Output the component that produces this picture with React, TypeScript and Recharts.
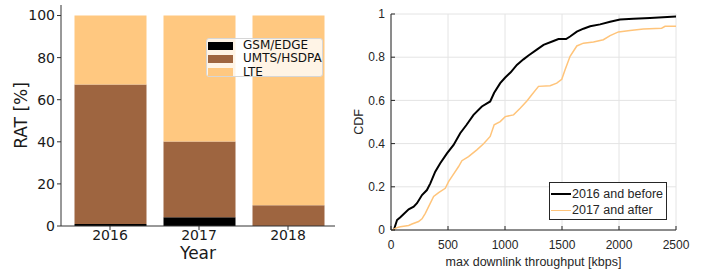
import { Bar, BarChart, CartesianGrid, Label, Legend, Line, LineChart, XAxis, YAxis } from "recharts";

const years = ["2016", "2017", "2018"];
const gsmEdge = [1.0, 4.1, 0.0];
const umtsHsdpa = [66.2, 36.0, 9.8];
const lte = [32.8, 59.9, 90.2];
const ratTicks = [0, 20, 40, 60, 80, 100];

const before2016Kbps = [
  25, 53, 82, 155, 199, 228, 272, 315, 345, 388, 432, 491, 549, 607, 660, 724, 797, 870, 905, 958,
  1000, 1050, 1104, 1162, 1206, 1279, 1338, 1425, 1469, 1536, 1571, 1630, 1688, 1747, 1834, 1922,
  2009, 2126, 2272, 2500
];
const before2016Cdf = [
  0, 0.046, 0.059, 0.096, 0.108, 0.124, 0.162, 0.185, 0.216, 0.27, 0.309, 0.355, 0.394, 0.448,
  0.485, 0.533, 0.572, 0.595, 0.635, 0.68, 0.705, 0.73, 0.764, 0.79, 0.808, 0.835, 0.857, 0.875,
  0.884, 0.884, 0.896, 0.918, 0.932, 0.943, 0.952, 0.964, 0.974, 0.978, 0.981, 0.988
];
const after2017Kbps = [
  9, 53, 82, 155, 184, 242, 272, 301, 330, 374, 418, 476, 505, 534, 593, 622, 680, 753, 812, 870,
  905, 958, 1002, 1075, 1133, 1192, 1235, 1294, 1396, 1454, 1498, 1527, 1571, 1630, 1688, 1776,
  1863, 1922, 1995, 2097, 2214, 2374, 2404, 2500
];
const after2017Cdf = [
  0, 0.011, 0.015, 0.021, 0.028, 0.039, 0.052, 0.077, 0.108, 0.155, 0.173, 0.193, 0.224, 0.247,
  0.294, 0.321, 0.34, 0.371, 0.399, 0.433, 0.487, 0.502, 0.525, 0.533, 0.564, 0.597, 0.626, 0.665,
  0.668, 0.68, 0.698, 0.742, 0.804, 0.852, 0.865, 0.87, 0.881, 0.9, 0.917, 0.924, 0.93, 0.934,
  0.943, 0.943
];
const throughputTicks = [0, 500, 1000, 1500, 2000, 2500];
const cdfTicks = [0, 0.2, 0.4, 0.6, 0.8, 1];

const ratSeries = [
  { key: "gsm", name: "GSM/EDGE", color: "#000000" },
  { key: "umts", name: "UMTS/HSDPA", color: "#9e6540" },
  { key: "lte", name: "LTE", color: "#ffc880" }
];

const ratData = years.map((year, i) => ({
  year,
  gsm: gsmEdge[i],
  umts: umtsHsdpa[i],
  lte: lte[i]
}));

const cdfSeries = [
  {
    name: "2016 and before",
    color: "#000000",
    width: 2,
    data: before2016Kbps.map((kbps, i) => ({ kbps, cdf: before2016Cdf[i] }))
  },
  {
    name: "2017 and after",
    color: "#ffc47a",
    width: 1.5,
    data: after2017Kbps.map((kbps, i) => ({ kbps, cdf: after2017Cdf[i] }))
  }
];

const mplFont = "'DejaVu Sans', sans-serif";
const matlabFont = "'Liberation Sans', Arial, sans-serif";
const spine = "#333333";
const matlabAxis = "#262626";

function RatLegend() {
  return (
    <div
      style={{
        boxSizing: "border-box",
        width: 117,
        height: 39,
        background: "rgba(255,255,255,0.8)",
        border: "1px solid #d6d6d6",
        borderRadius: 3,
        padding: "0 0 0 1px",
        fontFamily: mplFont,
        fontSize: 12,
        color: "#111",
        lineHeight: "13.3px"
      }}
    >
      {ratSeries.map((s) => (
        <div key={s.key} style={{ display: "flex", alignItems: "center" }}>
          <span style={{ width: 25, height: 8, background: s.color, marginRight: 10 }} />
          <span>{s.name}</span>
        </div>
      ))}
    </div>
  );
}

function CdfLegend() {
  return (
    <div
      style={{
        boxSizing: "border-box",
        width: 118,
        height: 38,
        background: "#fff",
        border: `1px solid ${matlabAxis}`,
        padding: "3px 0 0 1px",
        fontFamily: matlabFont,
        fontSize: 12.5,
        color: matlabAxis,
        lineHeight: "16px"
      }}
    >
      {cdfSeries.map((s) => (
        <div key={s.name} style={{ display: "flex", alignItems: "center" }}>
          <span style={{ width: 20, height: 0, borderTop: `${s.width}px solid ${s.color}`, marginRight: 1 }} />
          <span>{s.name}</span>
        </div>
      ))}
    </div>
  );
}

export default function App() {
  return (
    <div style={{ position: "absolute", left: 0, top: 0, width: 705, height: 270, background: "#fff" }}>
      <div style={{ position: "absolute", left: 0, top: 0 }}>
        <BarChart width={350} height={270} data={ratData} margin={{ top: 5, right: 15, bottom: 0, left: 1 }}>
          <XAxis
            dataKey="year"
            height={44}
            padding={{ left: 4.5, right: 2.5 }}
            tickSize={4}
            tickMargin={0}
            stroke={spine}
            tick={{ fill: "#1a1a1a", fontSize: 14, fontFamily: mplFont }}
          >
            <Label value="Year" position="insideBottom" offset={11} fill="#1a1a1a" fontSize={17} fontFamily={mplFont} />
          </XAxis>
          <XAxis xAxisId="top" dataKey="year" orientation="top" height={0} tick={false} tickLine={false} stroke={spine} />
          <YAxis
            width={60}
            domain={[0, 105]}
            ticks={ratTicks}
            tickSize={4}
            tickMargin={2}
            stroke={spine}
            tick={{ fill: "#1a1a1a", fontSize: 14, fontFamily: mplFont }}
          >
            <Label
              value="RAT [%]"
              angle={-90}
              position="insideLeft"
              offset={20}
              fill="#1a1a1a"
              fontSize={17}
              fontFamily={mplFont}
              style={{ textAnchor: "middle" }}
            />
          </YAxis>
          <YAxis yAxisId="right" orientation="right" width={0} domain={[0, 105]} tick={false} tickLine={false} stroke={spine} />
          {ratSeries.map((s) => (
            <Bar key={s.key} dataKey={s.key} name={s.name} stackId="rat" fill={s.color} barSize={72} isAnimationActive={false} />
          ))}
          <Legend
            layout="vertical"
            align="center"
            verticalAlign="middle"
            content={() => <RatLegend />}
            wrapperStyle={{ top: 38, left: 206, width: 117, height: 39 }}
          />
        </BarChart>
      </div>

      <div style={{ position: "absolute", left: 350, top: 0 }}>
        <LineChart width={355} height={270} margin={{ top: 14, right: 29, bottom: 0, left: 6 }}>
          <CartesianGrid stroke="#e4e4e4" />
          <XAxis
            type="number"
            dataKey="kbps"
            domain={[0, 2500]}
            ticks={throughputTicks}
            height={40}
            tickSize={-4}
            tickMargin={14}
            stroke={matlabAxis}
            tick={{ fill: matlabAxis, fontSize: 12, fontFamily: matlabFont }}
          >
            <Label
              value="max downlink throughput [kbps]"
              position="insideBottom"
              offset={4}
              fill={matlabAxis}
              fontSize={12.5}
              fontFamily={matlabFont}
            />
          </XAxis>
          <XAxis
            xAxisId="top"
            type="number"
            orientation="top"
            domain={[0, 2500]}
            ticks={throughputTicks}
            height={0}
            tickSize={-4}
            tickFormatter={() => ""}
            stroke={matlabAxis}
          />
          <YAxis
            type="number"
            domain={[0, 1]}
            ticks={cdfTicks}
            width={35}
            tickSize={-4}
            tickMargin={10}
            stroke={matlabAxis}
            tick={{ fill: matlabAxis, fontSize: 12, fontFamily: matlabFont }}
          >
            <Label
              value="CDF"
              angle={-90}
              position="insideLeft"
              offset={3}
              fill={matlabAxis}
              fontSize={12.5}
              fontFamily={matlabFont}
              style={{ textAnchor: "middle" }}
            />
          </YAxis>
          <YAxis
            yAxisId="right"
            type="number"
            orientation="right"
            domain={[0, 1]}
            ticks={cdfTicks}
            width={0}
            tickSize={-4}
            tickFormatter={() => ""}
            stroke={matlabAxis}
          />
          {cdfSeries.map((s) => (
            <Line
              key={s.name}
              data={s.data}
              dataKey="cdf"
              name={s.name}
              type="linear"
              stroke={s.color}
              strokeWidth={s.width}
              dot={false}
              isAnimationActive={false}
            />
          ))}
          <Legend
            layout="vertical"
            align="center"
            verticalAlign="middle"
            content={() => <CdfLegend />}
            wrapperStyle={{ top: 182, left: 199, width: 118, height: 38 }}
          />
        </LineChart>
      </div>
    </div>
  );
}
